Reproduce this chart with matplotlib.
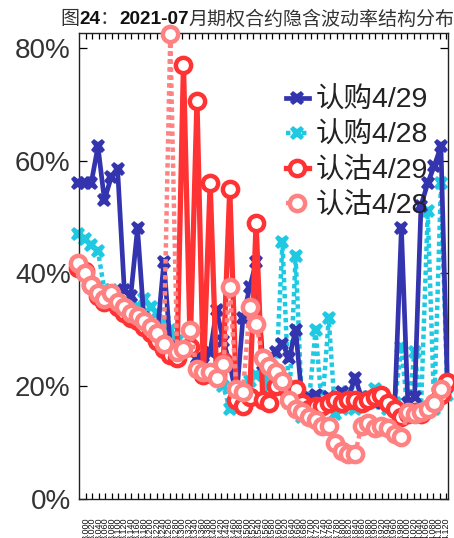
import numpy as np
import matplotlib
matplotlib.use("Agg")
import matplotlib.pyplot as plt
from matplotlib.ticker import FuncFormatter

# ---------------- data ----------------
strikes = [2.975, 2.996, 3.016, 3.037, 3.057, 3.078, 3.098, 3.119, 3.139, 3.160,
           3.180, 3.201, 3.221, 3.242, 3.262, 3.283, 3.303, 3.324, 3.345, 3.365,
           3.386, 3.406, 3.427, 3.447, 3.468, 3.488, 3.509, 3.529, 3.550, 3.570,
           3.591, 3.611, 3.632, 3.652, 3.673, 3.693, 3.714, 3.734, 3.755, 3.775,
           3.796, 3.816, 3.837, 3.857, 3.878, 3.899, 3.919, 3.940, 3.960, 3.981,
           4.001, 4.022, 4.042, 4.063, 4.083, 4.104, 4.124]

call_0429 = [56, 56, 56, 62.5, 53, 57, 58.5, 37, 36, 48,
             32, 30.5, 29, 42, 27, 26, 26.5, 26, 25, 24,
             26, 33.5, 28, 24, 18, 32, 37.5, 42, 24, 25,
             26, 27.5, 25, 30, 17, 18, 18.5, 17, 18, 17.5,
             19, 18, 21.5, 18, 17.5, 17, 18, 17, 16, 48,
             17, 18, 52, 56, 59, 62.5, 20]
call_0428 = [47, 46, 45, 44, 37, 37, 36, 35, 34.5, 34,
             35.5, 34, 33, 31.5, 30, 28, 27, 26, 25, 23,
             22.5, 22, 20, 16, 18, 19, 21, 22, 22, 20,
             22, 45.5, 17, 43, 14.5, 17, 30, 16, 32, 15,
             16, 19, 16, 17, 18, 19.5, 17, 16, 17, 27,
             15, 26, 16, 51, 16, 56, 18.5]
put_0429 = [41, 40.5, 38, 36, 35, 35.5, 34, 33, 32, 31.5,
            30.5, 29.5, 28, 26.5, 25.5, 25, 77, 27, 70.5, 22,
            56, 22, 24.5, 55, 17.5, 16.5, 18, 49, 17.5, 17,
            20, 21, 19, 19.5, 17, 16, 16.5, 16.5, 17, 17.5,
            17, 17.5, 17.5, 17, 17.5, 18, 18.5, 17, 16, 14.5,
            15, 15.5, 15, 16, 17, 18.5, 20.7]
put_0428 = [41.8, 40, 38, 36.5, 35.5, 36.5, 35, 34, 33, 32.5,
            31.5, 30.5, 29.5, 27.5, 82.5, 26, 26.5, 30, 23, 22.5,
            22.5, 21.5, 24, 37.5, 19.5, 19, 34, 31, 25, 23.5,
            22.5, 21, 17.5, 16, 15.5, 14.5, 14, 13, 13, 10,
            8.5, 8, 8, 13, 13.5, 12.5, 13, 12.5, 11.5, 11,
            15.5, 15, 15.5, 16, 17, 19.5, np.nan]

tick_values = [3.00 + 0.02 * k for k in range(57)]
tick_labels = ["%.3f" % v for v in tick_values]
y_ticks = [0, 0.2, 0.4, 0.6, 0.8]

series_labels = ["认购4/29", "认购4/28", "认沽4/29", "认沽4/28"]
title_parts = [("图", False), ("24", True), ("：", False), ("2021-07", True),
               ("月期权合约隐含波动率结构分布", False)]

# ---------------- figure ----------------
W, H = 454, 538
fig = plt.figure(figsize=(W / 100, H / 100), dpi=100)
ax = fig.add_axes([79 / W, 1 - 499 / H, (448 - 79) / W, (499 - 33) / H])

x = np.array(strikes)
c_blue = "#3434AE"
c_cyan = "#1FC9E2"
c_red = "#FF3333"
c_pink = "#FF8282"

ax.plot(x, np.array(call_0429) / 100, color=c_blue, lw=3.4, marker="X",
        ms=10.5, mew=0, clip_on=False, zorder=3, label=series_labels[0])
ax.plot(x, np.array(call_0428) / 100, color=c_cyan, lw=3.2, ls=(0, (1, 0.8)),
        marker="X", ms=10.5, mew=0, clip_on=False, zorder=2, label=series_labels[1])
ax.plot(x, np.array(put_0429) / 100, color=c_red, lw=3.8, marker="o", ms=11,
        mfc="white", mec=c_red, mew=3.2, clip_on=False, zorder=4,
        label=series_labels[2])
ax.plot(x, np.array(put_0428) / 100, color=c_pink, lw=3.2, ls=(0, (1, 0.8)),
        marker="o", ms=11, mfc="white", mec=c_pink, mew=3.2, clip_on=False,
        zorder=5, label=series_labels[3])

ax.set_xlim(2.978, 4.126)
ax.set_ylim(0, 0.826)
ax.set_yticks(y_ticks)
ax.yaxis.set_major_formatter(FuncFormatter(lambda v, p: "%d%%" % round(v * 100)))
ax.set_xticks(tick_values)
ax.set_xticklabels(tick_labels, rotation=90, fontsize=6.5,
                   family=["Liberation Sans"], color="#111111")
ax.tick_params(axis="x", direction="in", length=4, width=0.9, top=True,
               bottom=True, pad=13)
ax.tick_params(axis="y", direction="in", length=6, width=0.9, left=True,
               right=True, labelsize=20, labelcolor="#333333", pad=6)
for lab in ax.get_yticklabels():
    lab.set_family(["Liberation Sans"])
for s in ax.spines.values():
    s.set_linewidth(1.0)
    s.set_color("#222222")

leg = ax.legend(loc="upper left", bbox_to_anchor=(286 / W, 1 - 88 / H),
                bbox_transform=fig.transFigure, frameon=False,
                prop={"family": ["Liberation Sans", "Noto Sans CJK SC"], "size": 20.5},
                handlelength=0.8, handletextpad=0.25, labelspacing=0.3,
                borderaxespad=0, borderpad=0)
for t in leg.get_texts():
    t.set_color("#222222")

# title built from pieces (bold numbers)
fig.canvas.draw()
renderer = fig.canvas.get_renderer()
xpos = 60 / W
for txt, bold in title_parts:
    if bold:
        t = fig.text(xpos, 1 - 19 / H, txt, fontsize=13.7, fontweight="bold",
                     family=["Liberation Sans"], va="center", ha="left",
                     color="#111111")
    else:
        t = fig.text(xpos, 1 - 19 / H, txt, fontsize=13.7,
                     family=["Noto Sans CJK SC"], va="center", ha="left",
                     color="#333333")
    bb = t.get_window_extent(renderer)
    xpos += bb.width / W

fig.savefig("out.png", dpi=100)
